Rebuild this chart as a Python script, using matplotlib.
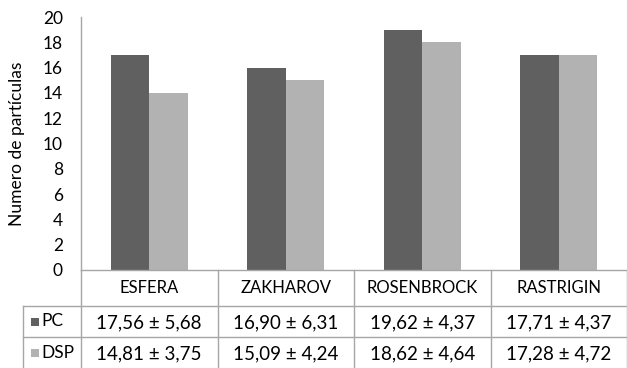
import matplotlib.pyplot as plt
import numpy as np

# === DATA ===
categories = ["ESFERA", "ZAKHAROV", "ROSENBROCK", "RASTRIGIN"]
series_names = ["PC", "DSP"]
pc_values = [17, 16, 19, 17]
dsp_values = [14, 15, 18, 17]
pc_table = ["17,56 ± 5,68", "16,90 ± 6,31", "19,62 ± 4,37", "17,71 ± 4,37"]
dsp_table = ["14,81 ± 3,75", "15,09 ± 4,24", "18,62 ± 4,64", "17,28 ± 4,72"]
y_ticks = list(range(0, 21, 2))

# === STYLE ===
plt.rcParams['font.family'] = ['Lato', 'DejaVu Sans']
DARK = "#606060"
LIGHT = "#b2b2b2"
GRID = "#a6a6a6"
W, H = 627, 368

fig = plt.figure(figsize=(W / 100, H / 100), dpi=100)

# plot area in pixels: x 81..627, y 17..270
left, right, top, bottom = 81, 627, 17, 270
ax = fig.add_axes([left / W, 1 - bottom / H, (right - left) / W, (bottom - top) / H])

x = np.arange(len(categories)) + 0.5
bw = 0.282
ax.bar(x - bw / 2, pc_values, bw, color=DARK)
ax.bar(x + bw / 2, dsp_values, bw, color=LIGHT)

ax.set_xlim(0, len(categories))
ax.set_ylim(0, 20)
ax.set_yticks(y_ticks)
ax.tick_params(axis="y", length=0, pad=13, labelsize=12.5, labelcolor="black")
ax.set_xticks([])
for s in ["top", "right", "bottom"]:
    ax.spines[s].set_visible(False)
ax.spines["left"].set_color(GRID)
ax.spines["left"].set_linewidth(1)
ax.set_ylabel("Numero de partículas", fontsize=12.5)
ax.yaxis.set_label_coords(-(left - 25) / (right - left), 0.5)

# === TABLE (under the bars) ===
tab = fig.add_axes([left / W, 0, (right - left) / W, (H - bottom) / H])
tab.set_xlim(0, len(categories))
tab.set_ylim(H - bottom, 0)
tab.axis("off")

unit = (right - left) / len(categories)  # pixels per category
leg_x = -(left - 23) / unit
rows = [0, 36, 67, 98]
kw = dict(color=GRID, lw=1, clip_on=False)

tab.plot([0, len(categories)], [rows[0], rows[0]], **kw)
for r in rows[1:3]:
    tab.plot([leg_x, len(categories)], [r, r], **kw)
for i in range(len(categories) + 1):
    tab.plot([i, i], [rows[0], rows[3]], **kw)
tab.plot([leg_x, leg_x], [rows[1], rows[3]], **kw)

for i, c in enumerate(categories):
    tab.text(i + 0.5, (rows[0] + rows[1]) / 2, c, ha="center", va="center", fontsize=12)
    tab.text(i + 0.5, (rows[1] + rows[2]) / 2 + 1, pc_table[i], ha="center", va="center", fontsize=13.5)
    tab.text(i + 0.5, (rows[2] + rows[3]) / 2 + 1, dsp_table[i], ha="center", va="center", fontsize=13.5)

for k, (name, col) in enumerate(zip(series_names, [DARK, LIGHT])):
    yc = (rows[k + 1] + rows[k + 2]) / 2
    tab.scatter([leg_x + 11.5 / unit], [yc], marker="s", s=26, color=col, lw=0, clip_on=False)
    tab.text(leg_x + 18 / unit, yc, name, ha="left", va="center", fontsize=12.5, clip_on=False)

fig.savefig("out.png", dpi=100)
